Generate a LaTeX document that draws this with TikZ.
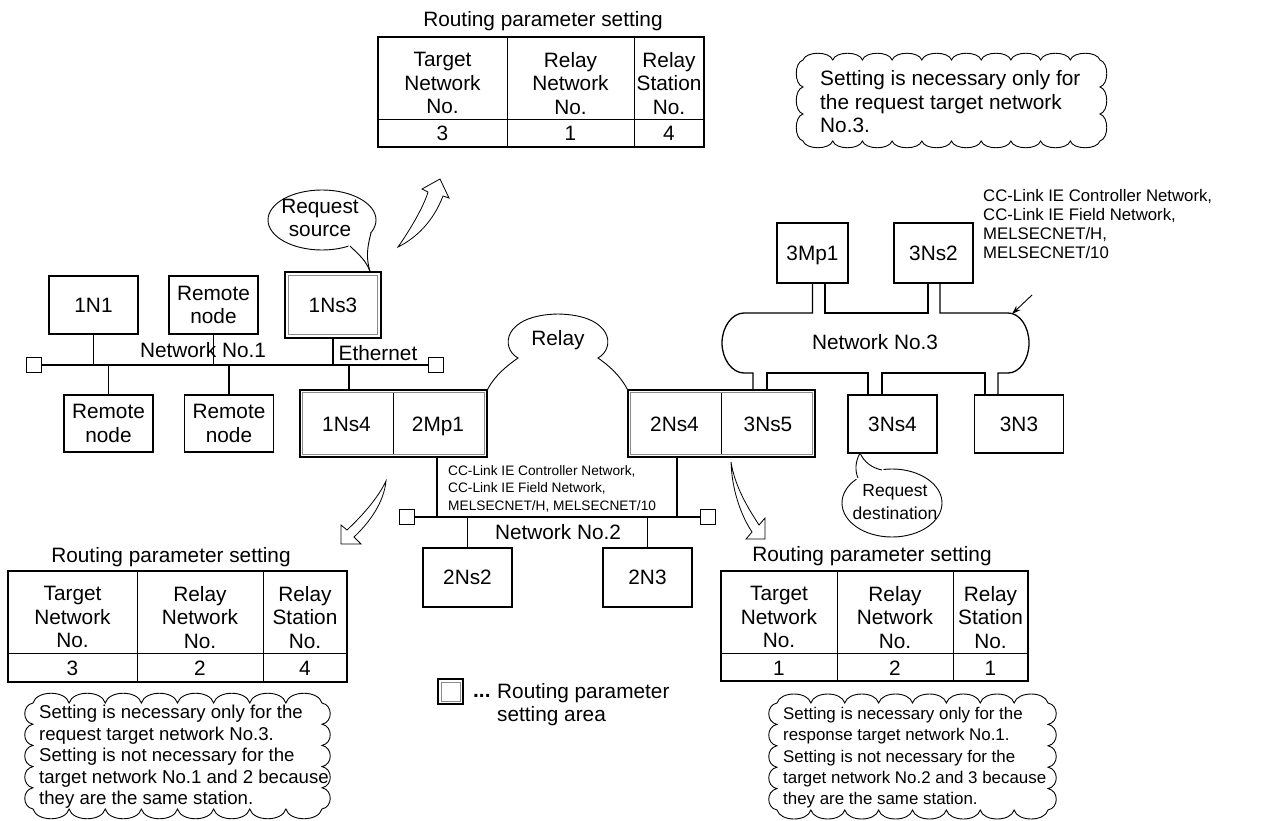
\documentclass[tikz,border=0pt]{standalone}
\usepackage{fontspec}
\setmainfont{Liberation Sans}
\usetikzlibrary{calc,arrows.meta}
\newcommand\fmain{\fontsize{20.8}{23.5}\selectfont}
\newcommand\fcloud{\fontsize{18.6}{21.5}\selectfont}
\newcommand\fcloudr{\fontsize{16.9}{21.3}\selectfont}
\newcommand\fsmall{\fontsize{13.7}{17.5}\selectfont}
\newcommand\fnet{\fontsize{16.75}{19}\selectfont}
\newcommand\fdest{\fontsize{17.5}{23}\selectfont}
% scalloped cloud: x1,y1,x2,y2,nx,ny,kx,ky
\newcommand\scloud[8]{%
 \draw[cloudline] (#1,#2)
  foreach \i in {1,...,#5}{ .. controls ({#1+(#3-#1)*(\i-0.9)/#5},{#2-#7}) and ({#1+(#3-#1)*(\i-0.1)/#5},{#2-#7}) .. ({#1+(#3-#1)*\i/#5},#2) }
  foreach \i in {1,...,#6}{ .. controls ({#3+#8},{#2+(#4-#2)*(\i-0.9)/#6}) and ({#3+#8},{#2+(#4-#2)*(\i-0.1)/#6}) .. (#3,{#2+(#4-#2)*\i/#6}) }
  foreach \i in {1,...,#5}{ .. controls ({#3-(#3-#1)*(\i-0.9)/#5},{#4+#7}) and ({#3-(#3-#1)*(\i-0.1)/#5},{#4+#7}) .. ({#3-(#3-#1)*\i/#5},#4) }
  foreach \i in {1,...,#6}{ .. controls ({#1-#8},{#4-(#4-#2)*(\i-0.9)/#6}) and ({#1-#8},{#4-(#4-#2)*(\i-0.1)/#6}) .. (#1,{#4-(#4-#2)*\i/#6}) }
  -- cycle;}
\begin{document}
\begin{tikzpicture}[x=1pt,y=-1pt,
  every node/.style={inner sep=0pt, text depth=0pt},
  lbl/.style={font=\fmain},
  box/.style={draw, line width=1.3pt, font=\fmain, minimum width=89pt, minimum height=58pt, align=center},
  innerline/.style={draw=black!45, line width=0.8pt},
  term/.style={draw, line width=1.1pt, minimum size=15pt, inner sep=0pt},
  wire/.style={line width=1.3pt},
  thinline/.style={line width=0.9pt},
  tabout/.style={line width=2.2pt},
  tabin/.style={line width=0.9pt},
  cloudline/.style={line width=0.9pt},
  hollow/.style={line width=0.8pt, line join=miter},
  hdr/.style={font=\fmain, align=center},
  cloudtxt/.style={font=\fcloud, align=left, anchor=north west}
]
\useasboundingbox (0,0) rectangle (1274,821);

% ---------- top table ----------
\node[lbl] (titleT) at (543,19) {Routing parameter setting};
\draw[tabin] (378,119) -- (704,119) (507,37) -- (507,147) (634,37) -- (634,147);
\draw[tabout] (378,37) rectangle (704,147);
\node[hdr] (tTa) at (442.5,83) {Target\\Network\\No.};
\node[hdr] (tTb) at (570.5,83) {Relay\\Network\\No.};
\node[hdr] (tTc) at (669,83) {Relay\\Station\\No.};
\node[lbl] (tTd) at (442.5,133) {3};
\node[lbl] (tTe) at (570.5,133) {1};
\node[lbl] (tTf) at (669,133) {4};

% ---------- top-right cloud ----------
\scloud{803}{60}{1100}{141}{10}{3}{9}{9}
\node[font=\fmain, align=left, anchor=north west] (cTR) at (820,70.5) {Setting is necessary only for\\the request target network\\No.3.};

% ---------- network 1 ----------
\node[box] (n1N1) at (93.5,305) {1N1};
\node[box] (nRemA) at (213.5,305) {Remote\\node};
\node[box, minimum width=96pt, minimum height=66pt] (n1Ns3) at (333,305) {1Ns3};
\draw[innerline] ($(n1Ns3.north west)+(4,4)$) rectangle ($(n1Ns3.south east)+(-4,-4)$);
\node[box, minimum height=57pt] (nRemB) at (108.5,423.5) {Remote\\node};
\node[box, minimum height=57pt] (nRemC) at (229,423.5) {Remote\\node};

\coordinate (b1L) at (42,365);
\coordinate (b1R) at (428,365);
\node[term, anchor=east] (tm1L) at (b1L) {};
\node[term, anchor=west] (tm1R) at (b1R) {};
\draw[wire] (tm1L) -- (tm1R);
\draw[wire] (n1N1.south) -- (n1N1.south |- b1L);
\draw[wire] (nRemA.south) -- (nRemA.south |- b1L);
\draw[wire] (n1Ns3.south) -- (n1Ns3.south |- b1L);
\draw[wire] (nRemB.north) -- (nRemB.north |- b1L);
\draw[wire] (nRemC.north) -- (nRemC.north |- b1L);
\node[lbl] (lNet1) at (203,350) {Network No.1};
\node[lbl] (lEth) at (378,353) {Ethernet};

% ---------- relay stations ----------
\node[draw, line width=1.3pt, minimum width=187pt, minimum height=67pt] (g1) at (393.5,423.5) {};
\draw[innerline] ($(g1.north west)+(3.5,3.5)$) rectangle ($(g1.south east)+(-3.5,-3.5)$);
\draw[thinline] ($(g1.north)+(0,3.5)$) -- ($(g1.south)+(0,-3.5)$);
\node[lbl] (t1Ns4) at (346.5,424) {1Ns4};
\node[lbl] (t2Mp1) at (438,424) {2Mp1};
\draw[wire] (349,0 |- b1L) -- (349,0 |- g1.north);

\node[draw, line width=1.3pt, minimum width=187pt, minimum height=67pt] (g2) at (721.5,423.5) {};
\draw[innerline] ($(g2.north west)+(3.5,3.5)$) rectangle ($(g2.south east)+(-3.5,-3.5)$);
\draw[thinline] ($(g2.north)+(0,3.5)$) -- ($(g2.south)+(0,-3.5)$);
\node[lbl] (t2Ns4) at (674.5,424) {2Ns4};
\node[lbl] (t3Ns5) at (768,424) {3Ns5};

% relay bubble
\draw[thinline] (g1.north east) .. controls (495,375) and (508,365) .. (518,358)
  .. controls (500,348) and (503,315) .. (558,314)
  .. controls (613,315) and (616,348) .. (598,358)
  .. controls (608,365) and (620,375) .. (g2.north west);
\node[lbl] (lRelay) at (558,338) {Relay};

% ---------- request source bubble ----------
\draw[thinline] (322,220) ellipse [x radius=54pt, y radius=30pt];
\fill[white] (368,231) -- (374,236) -- (370,271) -- (347,249) -- (350,243) -- cycle;
\draw[thinline] (371,233) .. controls (367,248) and (366,258) .. (370,271.5);
\draw[thinline] (350,246) .. controls (358,254) and (366,260) .. (370,271.5);
\node[hdr] (lReqS) at (320,218) {Request\\source};

% top hollow arrow
\draw[hollow] (398,247) .. controls (410,230) and (424,206) .. (428,192) -- (422,189) -- (440,179) -- (449,198) -- (443,196) .. controls (433,222) and (416,238) .. (398,247) -- cycle;

% ---------- network 2 ----------
\coordinate (b2L) at (415,517);
\coordinate (b2R) at (700,517);
\node[term, anchor=east] (tm2L) at (b2L) {};
\node[term, anchor=west] (tm2R) at (b2R) {};
\draw[wire] (tm2L) -- (tm2R);
\node[box, minimum height=59pt] (n2Ns2) at (467.5,577.5) {2Ns2};
\node[box, minimum height=59pt] (n2N3) at (647.5,577.5) {2N3};
\draw[wire] (437,0 |- g1.south) -- (437,0 |- b2L);
\draw[wire] (677,0 |- g2.south) -- (677,0 |- b2L);
\draw[wire] (n2Ns2.north) -- (n2Ns2.north |- b2L);
\draw[wire] (n2N3.north) -- (n2N3.north |- b2L);
\node[lbl] (lNet2) at (558,532) {Network No.2};
\node[font=\fsmall, align=left, anchor=north west] (lCC2) at (448,465) {CC-Link IE Controller Network,\\CC-Link IE Field Network,\\MELSECNET/H, MELSECNET/10};

% ---------- network 3 ----------
\node[box, minimum width=71pt, minimum height=60pt] (n3Mp1) at (812.5,253) {3Mp1};
\node[box, minimum width=79pt, minimum height=60pt] (n3Ns2) at (933.5,253) {3Ns2};
\node[box] (n3Ns4) at (892.5,424) {3Ns4};
\node[box] (n3N3) at (1019,424) {3N3};
\draw[wire] (n3Mp1.south) -- (812.5,313) -- (744,313) .. controls (732,313) and (722,327) .. (722,343) .. controls (722,359) and (732,373) .. (744,373) -- (753,373) -- (753,0 |- g2.north);
\draw[wire] (767,0 |- g2.north) -- (767,373) -- (868,373) -- (868,0 |- n3Ns4.north);
\draw[wire] (882,0 |- n3Ns4.north) -- (882,373) -- (985,373) -- (985,0 |- n3N3.north);
\draw[wire] (998,0 |- n3N3.north) -- (998,373) -- (1008,373) .. controls (1020,373) and (1029,359) .. (1029,343) .. controls (1029,327) and (1020,313) .. (1008,313) -- (940,313) -- (940,0 |- n3Ns2.south);
\draw[wire] (928,0 |- n3Ns2.south) -- (928,313) -- (825,313) -- (825,0 |- n3Mp1.south);
\node[lbl] (lNet3) at (875,342) {Network No.3};
\node[font=\fnet, align=left, anchor=north west] (lCC3) at (983,189) {CC-Link IE Controller Network,\\CC-Link IE Field Network,\\MELSECNET/H,\\MELSECNET/10};
\coordinate (a3s) at (1032,295);
\coordinate (a3e) at (1012,314);
\draw[thinline, -{Stealth[length=9pt,width=6pt]}] (a3s) -- (a3e);

% ---------- request destination bubble ----------
\draw[thinline] (892,503) ellipse [x radius=50pt, y radius=34pt];
\fill[white] (855,478) -- (860,453) -- (884,468) -- (882,474) -- (860,482) -- cycle;
\draw[thinline] (860,453) .. controls (855,462) and (855,471) .. (858,478);
\draw[thinline] (860,453) .. controls (864,462) and (872,468) .. (882,470);
\node[font=\fdest, align=center] (lReqD) at (895,502) {Request\\destination};

% ---------- bottom-left ----------
\draw[hollow] (386,481) .. controls (378,498) and (362,516) .. (347,530) -- (341,525) -- (341,544) -- (361,544) -- (354,537) .. controls (370,522) and (384,502) .. (386,481) -- cycle;
\node[lbl] (titleL) at (171,555) {Routing parameter setting};
\draw[tabin] (8,653) -- (347,653) (137,571) -- (137,682) (263,571) -- (263,682);
\draw[tabout] (8,571) rectangle (347,682);
\node[hdr] (tLa) at (72.5,617) {Target\\Network\\No.};
\node[hdr] (tLb) at (200,617) {Relay\\Network\\No.};
\node[hdr] (tLc) at (305,617) {Relay\\Station\\No.};
\node[lbl] (tLd) at (72.5,668) {3};
\node[lbl] (tLe) at (200,668) {2};
\node[lbl] (tLf) at (305,668) {4};
\scloud{33}{703}{322}{809}{8}{5}{13}{11}
\node[cloudtxt] (cBL) at (39,705) {Setting is necessary only for the\\request target network No.3.\\Setting is not necessary for the\\target network No.1 and 2 because\\they are the same station.};

% ---------- bottom-right ----------
\draw[hollow] (731,462) .. controls (735,487) and (748,508) .. (759,525) -- (765,518) -- (765,539) -- (746,539) -- (752,532) .. controls (742,517) and (732,492) .. (731,462) -- cycle;
\node[lbl] (titleR) at (872,554) {Routing parameter setting};
\draw[tabin] (721,653) -- (1028,653) (837,571) -- (837,681) (953,571) -- (953,681);
\draw[tabout] (721,571) rectangle (1028,681);
\node[hdr] (tRa) at (779,617) {Target\\Network\\No.};
\node[hdr] (tRb) at (895,617) {Relay\\Network\\No.};
\node[hdr] (tRc) at (990.5,617) {Relay\\Station\\No.};
\node[lbl] (tRd) at (779,668) {1};
\node[lbl] (tRe) at (895,668) {2};
\node[lbl] (tRf) at (990.5,668) {1};
\scloud{777}{703}{1048}{810}{8}{5}{12}{11}
\node[cloudtxt, font=\fcloudr] (cBR) at (783,707) {Setting is necessary only for the\\response target network No.1.\\Setting is not necessary for the\\target network No.2 and 3 because\\they are the same station.};

% ---------- legend ----------
\node[draw, line width=1.1pt, minimum size=25pt] (leg) at (450.5,691.5) {};
\draw[innerline] ($(leg.north west)+(3.5,3.5)$) rectangle ($(leg.south east)+(-3.5,-3.5)$);
\node[font=\fmain\bfseries, anchor=base west] (legdots) at (473,697.5) {...};
\node[font=\fmain, align=left, anchor=north west] (legtxt) at (497,683) {Routing parameter\\setting area};
\end{tikzpicture}
\end{document}
